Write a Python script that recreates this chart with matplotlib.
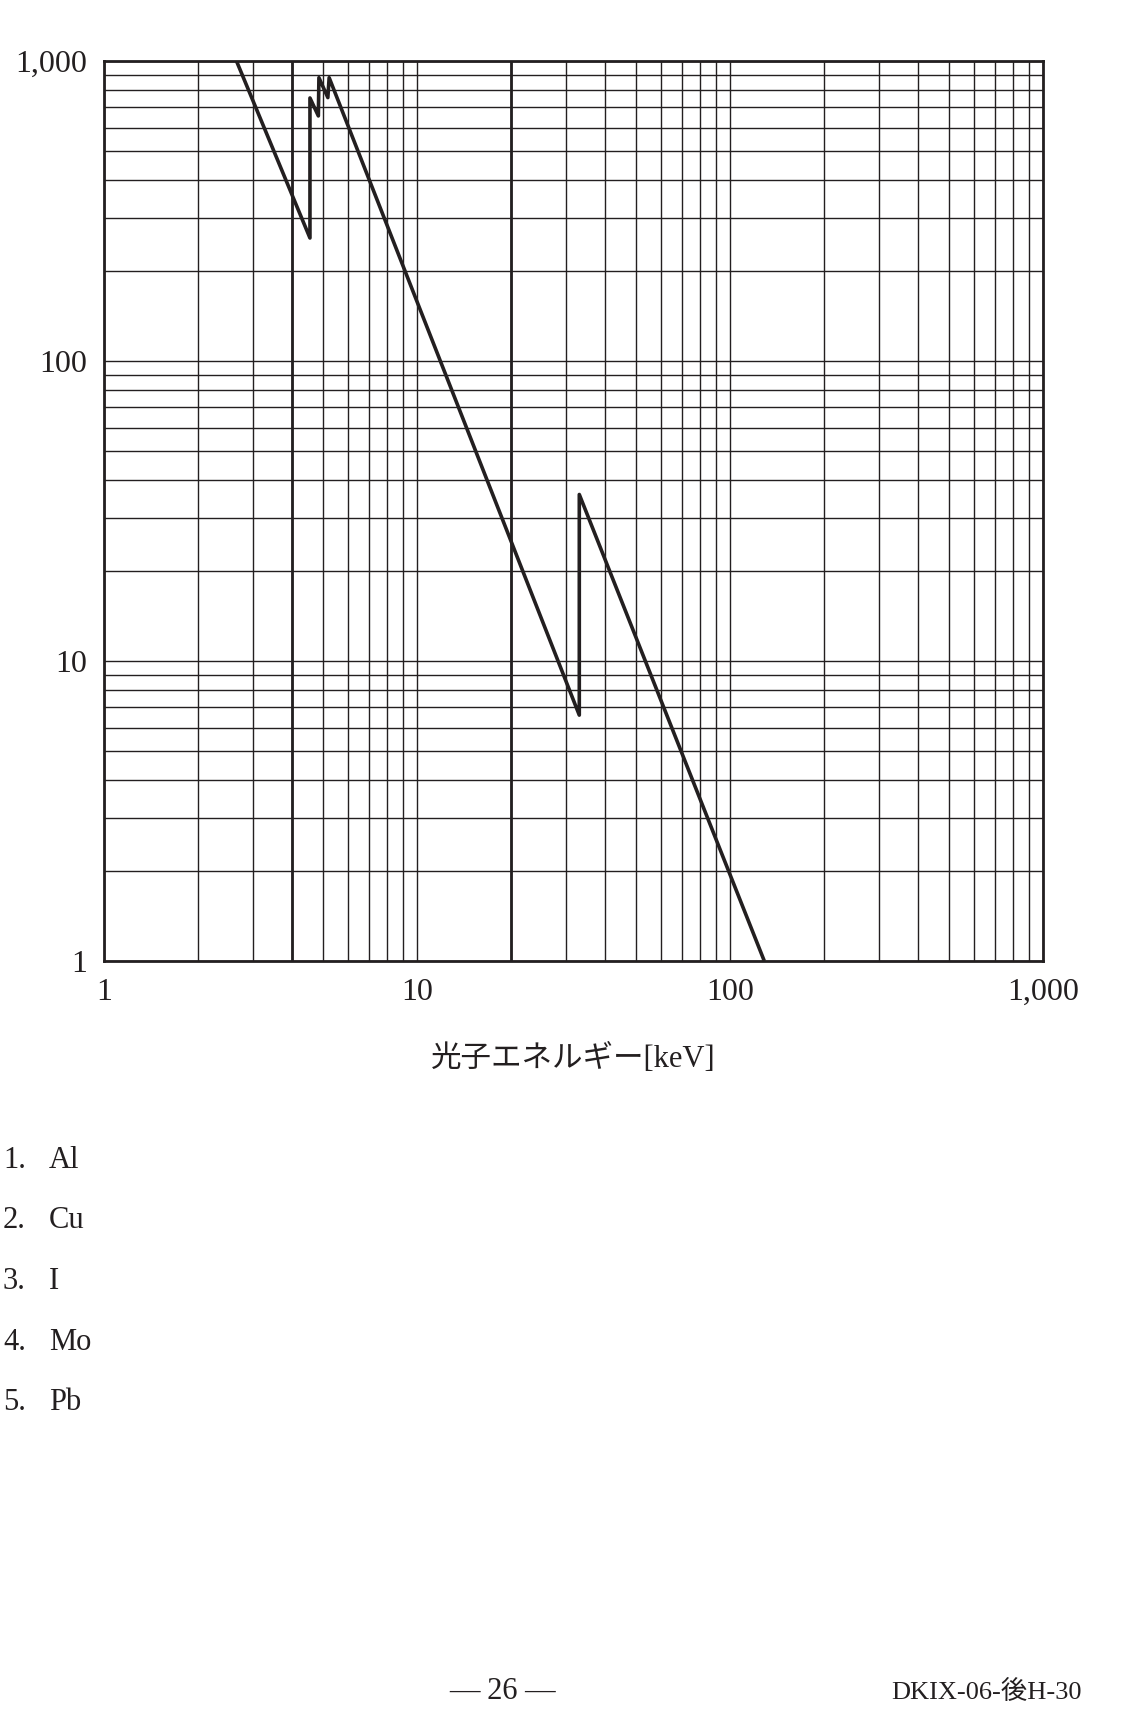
import numpy as np
import matplotlib.pyplot as plt
from matplotlib.ticker import FixedLocator, LogLocator

"""
Mass attenuation curve (log-log) with answer choices, exam page style
"""

# curve: photon energy [keV] vs attenuation
energy_kev = [2.65, 4.55, 4.55, 4.84, 4.86, 5.19, 5.24, 33.0, 33.0, 128.7]
atten = [1000, 257, 753, 656, 880, 755, 880, 6.6, 35.9, 1.0]

x_ticks = [1, 10, 100, 1000]
x_tick_labels = ['1', '10', '100', '1,000']
y_ticks = [1, 10, 100, 1000]
y_tick_labels = ['1', '10', '100', '1,000']
bold_x_lines = [4, 20]

xlabel = '光子エネルギー[keV]'
choice_nums = ['1.', '2.', '3.', '4.', '5.']
choice_names = ['Al', 'Cu', 'I', 'Mo', 'Pb']
page_no = '— 26 —'
page_code = 'DKIX-06-後H-30'

ink = '#231f20'
W, H = 1147, 1712
plt.rcParams['font.family'] = ['Liberation Serif', 'Noto Sans CJK JP', 'DejaVu Sans']

fig = plt.figure(figsize=(W / 100, H / 100), dpi=100)
fig.patch.set_facecolor('white')

# axes box in pixels: left 104, right 1043, top 61, bottom 961
ax = fig.add_axes([104 / W, 1 - 961 / H, (1043 - 104) / W, (961 - 61) / H])
ax.set_xscale('log')
ax.set_yscale('log')
ax.set_xlim(1, 1000)
ax.set_ylim(1, 1000)

ax.xaxis.set_major_locator(FixedLocator(x_ticks))
ax.yaxis.set_major_locator(FixedLocator(y_ticks))
ax.xaxis.set_minor_locator(LogLocator(base=10, subs=np.arange(2, 10)))
ax.yaxis.set_minor_locator(LogLocator(base=10, subs=np.arange(2, 10)))
ax.set_xticklabels(x_tick_labels)
ax.set_yticklabels(y_tick_labels)
ax.xaxis.set_minor_formatter(plt.NullFormatter())
ax.yaxis.set_minor_formatter(plt.NullFormatter())
ax.tick_params(which='both', length=0, labelsize=23, colors=ink, pad=12)

ax.grid(which='both', color=ink, lw=1.0)
for xv in bold_x_lines:
    ax.axvline(xv, color=ink, lw=2.0, zorder=1.5)

for s in ax.spines.values():
    s.set_linewidth(2.0)
    s.set_color(ink)

ax.plot(energy_kev, atten, color=ink, lw=2.6, solid_joinstyle='round',
        solid_capstyle='butt', zorder=3, clip_on=True)

ax.set_xlabel(xlabel, fontsize=22, color=ink, labelpad=27)

# answer choices
y0 = 1168
for i, (n, name) in enumerate(zip(choice_nums, choice_names)):
    yb = 1 - (y0 + i * 60.5) / H
    fig.text(3 / W, yb, n, fontsize=22, color=ink, va='baseline', ha='left')
    fig.text(49 / W, yb, name, fontsize=22, color=ink, va='baseline', ha='left')

# footer
fig.text(503 / W, 1 - 1699 / H, page_no, fontsize=22, color=ink,
         va='baseline', ha='center')
fig.text(1082 / W, 1 - 1699 / H, page_code, fontsize=19, color=ink,
         va='baseline', ha='right')

fig.savefig('out.png', dpi=100, facecolor='white')
